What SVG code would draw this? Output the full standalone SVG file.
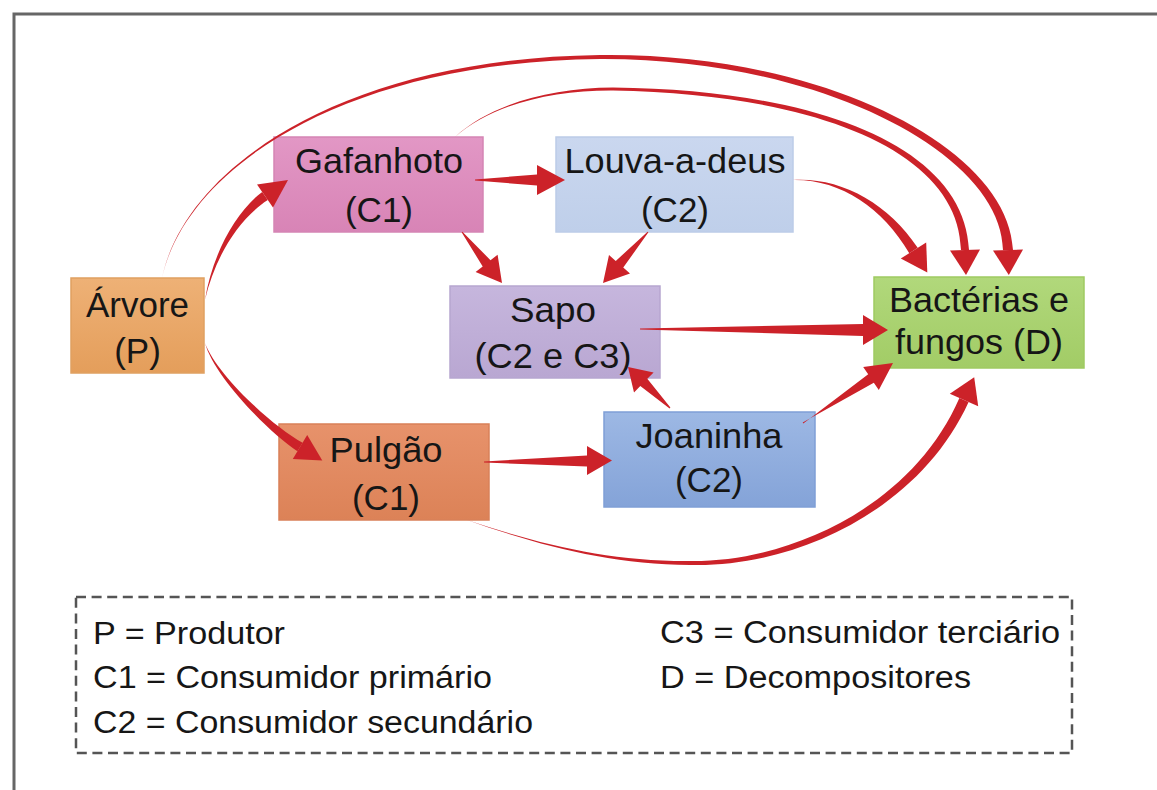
<svg xmlns="http://www.w3.org/2000/svg" width="1157" height="790" viewBox="0 0 1157 790">
  <style>
    .frame { fill: none; stroke: #666; stroke-width: 3; }
    .box { stroke-width: 1.5; }
    .lbl { font-family: "Liberation Sans", Arial, Helvetica, sans-serif; font-size: 35px; fill: #161616; text-anchor: middle; }
    .leg { font-family: "Liberation Sans", Arial, Helvetica, sans-serif; font-size: 31px; fill: #161616; }
    .arrow { fill: #cc2229; stroke: none; }
    .legend-box { fill: none; stroke: #555; stroke-width: 2.5; stroke-dasharray: 10 5.6; }
  </style>
  <defs>
    <linearGradient id="gPink" x1="0" y1="0" x2="0" y2="1"><stop offset="0" stop-color="#e297c5"/><stop offset="1" stop-color="#d884b6"/></linearGradient>
    <linearGradient id="gLightBlue" x1="0" y1="0" x2="0" y2="1"><stop offset="0" stop-color="#cad7ef"/><stop offset="1" stop-color="#bfcfea"/></linearGradient>
    <linearGradient id="gOrange" x1="0" y1="0" x2="0" y2="1"><stop offset="0" stop-color="#eeb176"/><stop offset="1" stop-color="#e49e5b"/></linearGradient>
    <linearGradient id="gSalmon" x1="0" y1="0" x2="0" y2="1"><stop offset="0" stop-color="#e7926b"/><stop offset="1" stop-color="#dc8257"/></linearGradient>
    <linearGradient id="gLavender" x1="0" y1="0" x2="0" y2="1"><stop offset="0" stop-color="#c6b6dd"/><stop offset="1" stop-color="#b9a7d2"/></linearGradient>
    <linearGradient id="gBlue" x1="0" y1="0" x2="0" y2="1"><stop offset="0" stop-color="#9db8e4"/><stop offset="1" stop-color="#84a3d8"/></linearGradient>
    <linearGradient id="gGreen" x1="0" y1="0" x2="0" y2="1"><stop offset="0" stop-color="#b1d87b"/><stop offset="1" stop-color="#a2cc66"/></linearGradient>
  </defs>

  <rect width="1157" height="790" fill="#fff"/>
  <!-- page frame (top and left edges) -->
  <path class="frame" d="M14,790 L14,14 L1157,14"/>

  <!-- nodes -->
  <g id="arvore">
    <rect class="box" x="71" y="278" width="133" height="95" fill="url(#gOrange)" stroke="#e0a060"/>
    <text class="lbl" x="137.5" y="317" textLength="103" lengthAdjust="spacingAndGlyphs">Árvore</text>
    <text class="lbl" x="137.5" y="363">(P)</text>
  </g>
  <g id="gafanhoto">
    <rect class="box" x="274" y="137" width="209" height="95" fill="url(#gPink)" stroke="#d585b4"/>
    <text class="lbl" x="379" y="173" textLength="168" lengthAdjust="spacingAndGlyphs">Gafanhoto</text>
    <text class="lbl" x="379" y="222">(C1)</text>
  </g>
  <g id="louva-a-deus">
    <rect class="box" x="556" y="137" width="237" height="95" fill="url(#gLightBlue)" stroke="#bccce8"/>
    <text class="lbl" x="675" y="173" textLength="221" lengthAdjust="spacingAndGlyphs">Louva-a-deus</text>
    <text class="lbl" x="675" y="222">(C2)</text>
  </g>
  <g id="sapo">
    <rect class="box" x="450" y="286" width="210" height="92" fill="url(#gLavender)" stroke="#b7a6d0"/>
    <text class="lbl" x="553" y="322" textLength="86" lengthAdjust="spacingAndGlyphs">Sapo</text>
    <text class="lbl" x="553" y="368" textLength="157" lengthAdjust="spacingAndGlyphs">(C2 e C3)</text>
  </g>
  <g id="pulgao">
    <rect class="box" x="279" y="424" width="210" height="96" fill="url(#gSalmon)" stroke="#d98058"/>
    <text class="lbl" x="386" y="462" textLength="113" lengthAdjust="spacingAndGlyphs">Pulgão</text>
    <text class="lbl" x="386" y="510">(C1)</text>
  </g>
  <g id="joaninha">
    <rect class="box" x="604" y="412" width="211" height="95" fill="url(#gBlue)" stroke="#7f9fd6"/>
    <text class="lbl" x="709" y="448" textLength="147" lengthAdjust="spacingAndGlyphs">Joaninha</text>
    <text class="lbl" x="709" y="492">(C2)</text>
  </g>
  <g id="bacterias-fungos">
    <rect class="box" x="874" y="277" width="210" height="91" fill="url(#gGreen)" stroke="#9fca62"/>
    <text class="lbl" x="979" y="312" textLength="180" lengthAdjust="spacingAndGlyphs">Bactérias e</text>
    <text class="lbl" x="979" y="354" textLength="168" lengthAdjust="spacingAndGlyphs">fungos (D)</text>
  </g>

  <!-- connectors: tapered red arrows, drawn over the boxes -->
  <g id="connectors">
    <!-- Árvore -> Gafanhoto -->
    <path class="arrow" d="M205,300 C214.4,258.5 238,218.9 267.8,200.1 L262.2,191.9 C234,213.1 211.6,257.5 205,300 Z"/>
    <polygon class="arrow" points="273,207.5 257,184.5 288,180"/>
    <!-- Árvore -> Pulgão -->
    <path class="arrow" d="M205,343 C213.8,375.9 268.2,432 297.4,451.3 L302.6,442.7 C271.8,426 216.2,374.1 205,343 Z"/>
    <polygon class="arrow" points="292.8,459 307.2,435 322.3,460.4"/>
    <!-- Árvore -> Bactérias e fungos (outer arc) -->
    <path class="arrow" d="M162,278 C185.5,170.4 340.4,61.5 600,59 C819.3,57.9 1001.8,153.1 1003,250.2 L1013,249.9 C1008.2,146.9 820.7,52.1 600,55 C339.6,58.5 184.5,169.6 162,278 Z"/>
    <polygon class="arrow" points="993,250.5 1023,249.5 1008.8,275"/>
    <!-- Gafanhoto -> Bactérias e fungos (inner arc) -->
    <path class="arrow" d="M455,137 C490.2,105.5 550.1,90.1 613,90.5 C819.6,94.3 959.4,152.4 961,250.1 L969,249.9 C964.6,147.6 820.4,89.7 613,87.5 C549.9,87.9 489.8,104.5 455,137 Z"/>
    <polygon class="arrow" points="950,250.5 980,249.5 966,275"/>
    <!-- Gafanhoto -> Louva-a-deus -->
    <polygon class="arrow" points="475,179.5 537,174.5 537,165 565,180 537,195 537,185.5 475,180.5"/>
    <!-- Gafanhoto -> Sapo -->
    <polygon class="arrow" points="461.6,232.3 482.7,266.4 475.6,271.9 502,283 497.6,254.7 490.5,260.2 462.4,231.7"/>
    <!-- Louva-a-deus -> Sapo -->
    <polygon class="arrow" points="648.4,232.3 623.25,267.6 630,273.6 603,283 609,255 615.75,261 647.6,231.7"/>
    <!-- Louva-a-deus -> Bactérias e fungos -->
    <path class="arrow" d="M793,180 C839.7,179 882.5,207.5 909.3,253.2 L917.7,247.8 C887.5,202.5 840.3,177 793,180 Z"/>
    <polygon class="arrow" points="900.8,258.5 926.2,242.5 927.3,272.5"/>
    <!-- Sapo -> Bactérias e fungos -->
    <polygon class="arrow" points="640,328.5 863,324 863,315 888,330 863,345 863,336 640,329.5"/>
    <!-- Joaninha -> Sapo -->
    <polygon class="arrow" points="670.4,407.6 647.3,378.8 653.6,372.4 628,367 634,392.4 640.3,386 669.6,408.4"/>
    <!-- Joaninha -> Bactérias e fungos -->
    <polygon class="arrow" points="803.3,423.4 868.2,374.3 863.2,366.9 893,363 878.8,390.1 873.8,382.7 802.7,422.6"/>
    <!-- Pulgão -> Joaninha -->
    <polygon class="arrow" points="484,461.5 587,455.5 587,446 612,460.5 587,475 587,466.5 484,462.5"/>
    <!-- Pulgão -> Bactérias e fungos (bottom arc) -->
    <path class="arrow" d="M467,520 C539.8,545.6 609.8,564.4 690,565 C790.7,567.9 918,513.1 968.6,402 L959.4,398 C912,506.9 789.3,562.1 690,561 C610.2,561.6 540.2,544.4 467,520 Z"/>
    <polygon class="arrow" points="978.2,406.3 949.8,393.7 974.2,377.2"/>
  </g>

  <!-- legend -->
  <g id="legend">
    <rect class="legend-box" x="76" y="597" width="996" height="156"/>
    <text class="leg" x="93" y="644" textLength="192" lengthAdjust="spacingAndGlyphs">P = Produtor</text>
    <text class="leg" x="93" y="688" textLength="399" lengthAdjust="spacingAndGlyphs">C1 = Consumidor primário</text>
    <text class="leg" x="93" y="733" textLength="440" lengthAdjust="spacingAndGlyphs">C2 = Consumidor secundário</text>
    <text class="leg" x="660" y="643" textLength="400" lengthAdjust="spacingAndGlyphs">C3 = Consumidor terciário</text>
    <text class="leg" x="660" y="688" textLength="311" lengthAdjust="spacingAndGlyphs">D = Decompositores</text>
  </g>
</svg>
